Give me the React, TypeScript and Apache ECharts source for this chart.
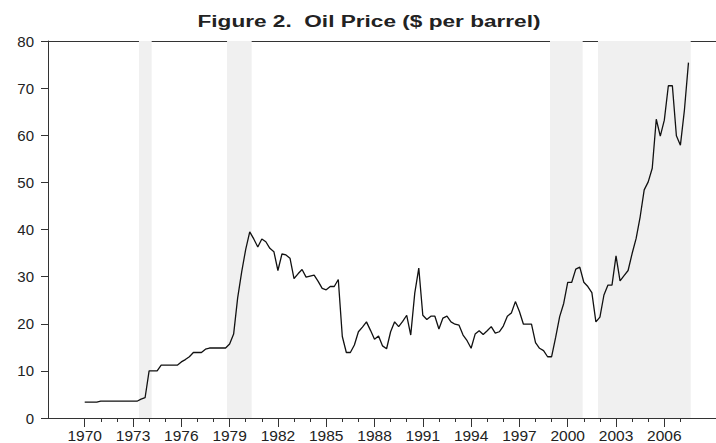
import React, { useEffect, useRef } from "react";
import * as echarts from "echarts";

// Quarterly oil price, $ per barrel, 1970Q1 .. 2007Q3
const startYear = 1970;
const oilPrice: number[] = [
  // 1970
  3.35, 3.35, 3.35, 3.35,
  // 1971
  3.56, 3.56, 3.56, 3.56,
  // 1972
  3.56, 3.56, 3.56, 3.56,
  // 1973
  3.56, 3.56, 4.0, 4.3,
  // 1974
  10.0, 10.0, 10.0, 11.2,
  // 1975
  11.2, 11.2, 11.2, 11.2,
  // 1976
  11.9, 12.4, 13.0, 13.9,
  // 1977
  13.9, 13.9, 14.6, 14.85,
  // 1978
  14.85, 14.85, 14.85, 14.85,
  // 1979
  15.7, 17.8, 25.5, 31.0,
  // 1980
  35.8, 39.5, 38.0, 36.3,
  // 1981
  38.0, 37.4, 36.0, 35.3,
  // 1982
  31.3, 34.8, 34.6, 33.9,
  // 1983
  29.6, 30.6, 31.5, 29.9,
  // 1984
  30.1, 30.3, 29.0, 27.5,
  // 1985
  27.2, 27.9, 27.9, 29.4,
  // 1986
  17.3, 13.9, 13.9, 15.5,
  // 1987
  18.3, 19.3, 20.4, 18.6,
  // 1988
  16.7, 17.4, 15.3, 14.7,
  // 1989
  18.3, 20.4, 19.4, 20.5,
  // 1990
  21.8, 17.6, 26.5, 31.8,
  // 1991
  21.8, 20.9, 21.6, 21.6,
  // 1992
  18.9, 21.2, 21.6, 20.4,
  // 1993
  19.9, 19.7, 17.6, 16.4,
  // 1994
  14.8, 17.8, 18.5, 17.7,
  // 1995
  18.5, 19.4, 18.0, 18.3,
  // 1996
  19.5, 21.6, 22.3, 24.7,
  // 1997
  22.6, 19.9, 19.9, 19.9,
  // 1998
  16.0, 14.8, 14.3, 13.0,
  // 1999
  13.0, 17.1, 21.5, 24.3,
  // 2000
  28.8, 28.8, 31.6, 32.0,
  // 2001
  28.8, 27.9, 26.6, 20.4,
  // 2002
  21.4, 26.1, 28.2, 28.2,
  // 2003
  34.4, 29.1, 30.2, 31.3,
  // 2004
  34.9, 38.1, 42.7, 48.4,
  // 2005
  50.1, 53.0, 63.4, 59.8,
  // 2006
  63.2, 70.5, 70.5, 59.9,
  // 2007
  57.9, 65.4, 75.4,
];

// Shaded periods (start, end) in fractional years
const shadedPeriods: [number, number][] = [
  [1973.37, 1974.16],
  [1978.84, 1980.37],
  [1998.9, 2000.93],
  [2001.88, 2007.64],
];

const xLabelYears: number[] = [1970, 1973, 1976, 1979, 1982, 1985, 1988, 1991, 1994, 1997, 2000, 2003, 2006];
const xTickYears: number[] = [];
for (let y = 1970; y <= 2007; y++) xTickYears.push(y);
const yTicks: number[] = [0, 10, 20, 30, 40, 50, 60, 70, 80];

const title = "Figure 2.\u00a0 Oil Price ($ per barrel)";

export default function App() {
  const ref = useRef<HTMLDivElement>(null);
  useEffect(() => {
    if (!ref.current) return;
    const chart = echarts.init(ref.current, null, { renderer: "svg" });
    const points = oilPrice.map((v, i) => [startYear + i * 0.25, v]);
    const xMin = 1967.72;
    const xMax = 2009.21;
    const font = "'Liberation Sans', Arial, sans-serif";
    const axisColor = "#333";
    const labelColor = "#222";
    chart.setOption({
      animation: false,
      backgroundColor: "#ffffff",
      graphic: [
        {
          type: "text",
          x: 369,
          y: 21,
          scaleX: 1.33,
          scaleY: 1,
          style: {
            text: title,
            x: 0,
            y: 0,
            align: "center",
            verticalAlign: "middle",
            fontFamily: font,
            fontSize: 17,
            fontWeight: "bold",
            fill: labelColor,
          },
        },
      ],
      grid: {
        left: 48,
        right: 0,
        top: 41,
        bottom: 25,
        show: false,
      },
      xAxis: [
        {
          type: "value",
          min: xMin,
          max: xMax,
          axisLine: { show: true, onZero: false, lineStyle: { color: axisColor, width: 1 } },
          axisTick: {
            show: true,
            length: 9,
            customValues: xLabelYears,
            lineStyle: { color: axisColor },
          },
          axisLabel: {
            customValues: xLabelYears,
            margin: 9,
            fontFamily: font,
            fontSize: 15.5,
            color: labelColor,
            formatter: (v: number) => String(Math.round(v)),
          },
          splitLine: { show: false },
        },
        {
          type: "value",
          position: "bottom",
          min: xMin,
          max: xMax,
          axisLine: { show: false },
          axisTick: {
            show: true,
            length: 4,
            customValues: xTickYears,
            lineStyle: { color: axisColor },
          },
          axisLabel: { show: false },
          splitLine: { show: false },
        },
        {
          type: "value",
          position: "top",
          min: xMin,
          max: xMax,
          axisLine: { show: true, onZero: false, lineStyle: { color: axisColor, width: 1 } },
          axisTick: { show: false },
          axisLabel: { show: false },
          splitLine: { show: false },
        },
      ],
      yAxis: {
        type: "value",
        min: 0,
        max: 80,
        interval: 10,
        axisLine: { show: true, lineStyle: { color: axisColor, width: 1 } },
        axisTick: { show: true, length: 7, lineStyle: { color: axisColor } },
        axisLabel: {
          margin: 14,
          fontFamily: font,
          fontSize: 15,
          color: labelColor,
          customValues: yTicks,
        },
        splitLine: { show: false },
      },
      series: [
        {
          type: "line",
          xAxisIndex: 0,
          data: points,
          showSymbol: false,
          symbol: "none",
          lineStyle: { color: "#111", width: 1.3 },
          markArea: {
            silent: true,
            itemStyle: { color: "#f0f0f0" },
            data: shadedPeriods.map(([a, b]) => [{ xAxis: a }, { xAxis: b }]),
          },
          z: 3,
        },
      ],
    });
    return () => chart.dispose();
  }, []);
  return (
    <div
      ref={ref}
      style={{ position: "fixed", left: 0, top: 0, width: 716, height: 443, overflow: "hidden" }}
    />
  );
}
